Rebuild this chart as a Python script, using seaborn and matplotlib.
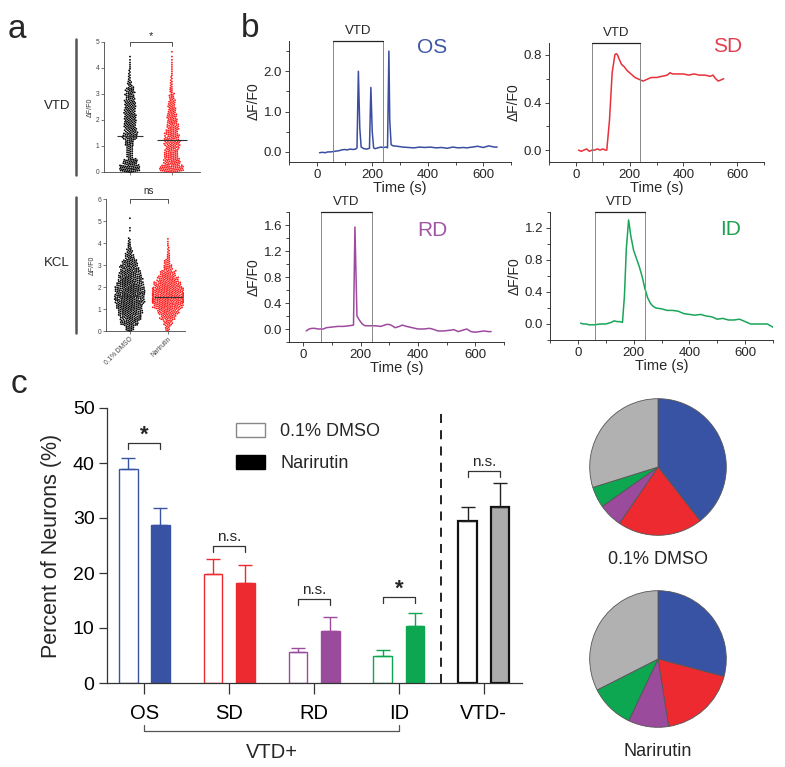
import warnings
import numpy as np
import pandas as pd
import matplotlib.pyplot as plt
import seaborn as sns
from matplotlib.patches import Patch
from matplotlib.ticker import MultipleLocator

warnings.filterwarnings('ignore')

# ---- panel a: binned counts of dF/F0 (bin width 0.25) ----
a_bin_lo = np.arange(0, 6.0, 0.25)
vtd_dmso_n = [42, 30, 12, 12, 18, 28, 24, 24, 24, 22, 22, 18, 18, 9, 5, 4, 3, 2]
vtd_nar_n = [48, 34, 28, 26, 30, 28, 24, 22, 20, 16, 14, 11, 7, 5, 4, 3, 3, 2, 1]
kcl_dmso_n = [15, 30, 35, 40, 45, 50, 50, 50, 45, 40, 35, 30, 25, 15, 10, 6, 4, 0, 2, 0, 1]
kcl_nar_n = [8, 15, 25, 35, 50, 60, 60, 55, 45, 35, 25, 15, 10, 6, 4, 3, 2]
vtd_median = [1.4, 1.25]
kcl_median = [1.6, 1.55]
a_groups = ['0.1% DMSO', 'Narirutin']

# ---- panel b: example traces ----
os_t = [10, 20, 30, 40, 50, 60, 70, 80, 90, 100, 110, 120, 130, 140, 145, 150, 155, 160, 170, 180,
        190, 195, 200, 205, 210, 220, 230, 240, 250, 255, 260, 263, 268, 275, 290, 310, 330, 350, 370, 390,
        410, 430, 450, 470, 490, 510, 530, 540, 560, 580, 600, 610, 620, 640, 650]
os_v = [-0.02, -0.01, -0.02, 0.0, 0.0, 0.01, 0.02, 0.03, 0.05, 0.06, 0.05, 0.07, 0.06, 0.07, 0.1, 2.0, 0.6, 0.12, 0.08, 0.07,
        0.09, 1.6, 0.5, 0.1, 0.08, 0.1, 0.12, 0.11, 0.12, 0.1, 2.5, 0.8, 0.18, 0.15, 0.14, 0.12, 0.11, 0.1, 0.12, 0.11,
        0.12, 0.1, 0.11, 0.09, 0.12, 0.1, 0.11, 0.1, 0.12, 0.14, 0.11, 0.13, 0.15, 0.12, 0.12]
sd_t = [10, 20, 30, 40, 50, 60, 70, 80, 90, 100, 110, 115, 125, 135, 145, 150, 155, 160, 170, 180,
        190, 200, 210, 220, 230, 240, 250, 260, 270, 280, 300, 320, 340, 350, 360, 380, 400, 420, 440, 460,
        480, 500, 510, 520, 530, 540, 550]
sd_v = [0.0, -0.01, 0.0, 0.01, -0.01, 0.0, 0.0, 0.01, 0.0, 0.01, 0.0, 0.0, 0.25, 0.65, 0.8, 0.81, 0.8, 0.77, 0.72, 0.7,
        0.67, 0.65, 0.63, 0.61, 0.6, 0.59, 0.58, 0.59, 0.6, 0.61, 0.61, 0.62, 0.63, 0.65, 0.64, 0.64, 0.64, 0.63, 0.64, 0.63,
        0.63, 0.62, 0.63, 0.6, 0.58, 0.59, 0.6]
rd_t = [10, 20, 30, 40, 50, 60, 70, 80, 100, 120, 140, 160, 175, 180, 187, 195, 205, 215, 230, 250,
        270, 290, 300, 310, 320, 335, 345, 360, 380, 400, 420, 440, 450, 470, 490, 510, 525, 540, 555, 570,
        585, 600, 615, 630, 645, 655]
rd_v = [-0.03, 0.0, 0.01, 0.01, 0.0, 0.0, 0.0, 0.02, 0.03, 0.04, 0.04, 0.05, 0.06, 1.57, 0.2, 0.14, 0.08, 0.05, 0.05, 0.05,
        0.04, 0.07, 0.07, 0.05, 0.02, 0.04, 0.06, 0.04, 0.02, 0.0, 0.0, 0.01, 0.0, -0.03, -0.03, -0.02, -0.01, -0.04, -0.02, 0.0,
        -0.04, -0.05, -0.04, -0.03, -0.04, -0.04]
id_t = [10, 20, 30, 40, 60, 80, 100, 110, 120, 130, 140, 150, 160, 167, 174, 182, 190, 200, 210, 220,
        230, 240, 250, 260, 270, 280, 300, 320, 340, 360, 380, 400, 420, 440, 460, 480, 500, 520, 540, 560,
        580, 600, 620, 640, 660, 680, 700]
id_v = [0.01, 0.0, 0.0, -0.01, -0.01, 0.0, 0.0, 0.01, 0.02, 0.04, 0.03, 0.03, 0.02, 0.35, 0.95, 1.3, 1.1, 0.92, 0.82, 0.72,
        0.6, 0.45, 0.33, 0.26, 0.22, 0.2, 0.19, 0.17, 0.17, 0.16, 0.13, 0.12, 0.11, 0.12, 0.1, 0.09, 0.06, 0.07, 0.05, 0.05,
        0.06, 0.03, 0.0, 0.0, 0.0, 0.0, -0.04]
vtd_on, vtd_off = 60, 240

# ---- panel c: percent of neurons ----
cats = ['OS', 'SD', 'RD', 'ID', 'VTD-']
dmso_mean = [39.0, 19.9, 5.6, 4.9, 29.5]
dmso_sem = [2.0, 2.6, 0.7, 1.1, 2.5]
nar_mean = [28.7, 18.1, 9.4, 10.3, 32.0]
nar_sem = [3.1, 3.4, 2.6, 2.4, 4.4]
sig_y = [43.6, 24.9, 15.3, 15.6, 38.5]
sig_lab = ['*', 'n.s.', 'n.s.', '*', 'n.s.']
cat_colors = ['#3953A4', '#EC2A2F', '#9A4B9C', '#0CA750', '#ABABAB']

sns.set_style('ticks')
plt.rcParams['font.family'] = ['Liberation Sans', 'DejaVu Sans']

W, H = 785, 767
fig = plt.figure(figsize=(W / 100, H / 100), dpi=100)


def box(l, t, w, h):
    return [l / W, 1 - (t + h) / H, w / W, h / H]


# ================= panel a =================
def swarm(ax, counts, meds, ymax):
    vals, grp = [], []
    for lab, cnt in zip(a_groups, counts):
        for lo, n in zip(a_bin_lo, cnt):
            if n:
                vals.extend(lo + 0.25 * (np.arange(n) + 0.5) / n)
                grp += [lab] * n
    d = pd.DataFrame({'group': grp, 'val': vals})
    sns.swarmplot(data=d, x='group', y='val', hue='group', order=a_groups,
                  palette={a_groups[0]: 'black', a_groups[1]: '#FF1A1A'},
                  size=1.3, linewidth=0, legend=False, ax=ax, clip_on=False)
    for i, m in enumerate(meds):
        hw = 0.3 if i == 0 else 0.36
        ax.hlines(m, i - hw, i + hw, color='#333333', lw=0.8, zorder=5)
    ax.set_ylim(0, ymax)
    ax.set_yticks(range(0, ymax + 1))
    ax.set_xlabel('')
    ax.set_ylabel('ΔF/F0', fontsize=5, labelpad=1, color='#333333')
    ax.tick_params(labelsize=4.8, length=2, width=0.5, colors='#444444', pad=1.5)
    sns.despine(ax=ax)
    for s in ['left', 'bottom']:
        ax.spines[s].set_linewidth(0.6)
        ax.spines[s].set_color('#444444')


ax_a1 = fig.add_axes(box(104, 42, 96, 130))
swarm(ax_a1, [vtd_dmso_n, vtd_nar_n], vtd_median, 5)
ax_a1.set_xlim(-0.62, 1.67)
ax_a1.set_xticklabels([])
ax_a1.plot([0, 0, 1, 1], [4.85, 5.0, 5.0, 4.85], color='#333333', lw=0.6, clip_on=False)
ax_a1.text(0.5, 5.05, '*', ha='center', va='bottom', fontsize=8)

ax_a2 = fig.add_axes(box(106, 199, 79, 132))
swarm(ax_a2, [kcl_dmso_n, kcl_nar_n], kcl_median, 6)
ax_a2.set_xlim(-0.63, 1.45)
ax_a2.set_xticklabels(a_groups, rotation=45, ha='right', rotation_mode='anchor', fontsize=4.8)
ax_a2.plot([0, 0, 1, 1], [5.8, 6.0, 6.0, 5.8], color='#333333', lw=0.6, clip_on=False)
ax_a2.text(0.5, 6.15, 'ns', ha='center', va='bottom', fontsize=7)

fig.add_artist(plt.Line2D([76 / W, 76 / W], [1 - 39 / H, 1 - 175 / H], color='#555555', lw=1.8))
fig.add_artist(plt.Line2D([76 / W, 76 / W], [1 - 197 / H, 1 - 333 / H], color='#555555', lw=1.8))
fig.text(57 / W, 1 - 106 / H, 'VTD', ha='center', va='center', fontsize=9.5)
fig.text(57 / W, 1 - 263 / H, 'KCL', ha='center', va='center', fontsize=9.5)

# ================= panel b =================
b_specs = [
    ('OS', os_t, os_v, '#3A4DA0', '#3F55A5', box(289, 41, 222, 121), (-100, 700), (-0.25, 2.75), [0, 1, 2], 0.5, (0.644, 0.95)),
    ('SD', sd_t, sd_v, '#E8303A', '#E04050', box(549, 43, 215, 119), (-100, 700), (-0.1, 0.9), [0, 0.4, 0.8], 0.2, (0.83, 0.97)),
    ('RD', rd_t, rd_v, '#9E4A9E', '#A055A5', box(289, 212, 215, 130), (-50, 700), (-0.2, 1.8), [0, 0.4, 0.8, 1.2, 1.6], 0.2, (0.665, 0.86)),
    ('ID', id_t, id_v, '#1AA55A', '#20A050', box(550, 212, 223, 128), (-100, 700), (-0.2, 1.4), [0, 0.4, 0.8, 1.2], 0.2, (0.81, 0.86)),
]
for name, t, v, lc, tc, rect, xl, yl, yt, ymin_step, npos in b_specs:
    ax = fig.add_axes(rect)
    sns.lineplot(x=t, y=v, ax=ax, color=lc, lw=1.1)
    ax.set_xlim(*xl)
    ax.set_ylim(*yl)
    ax.set_xticks([0, 200, 400, 600])
    ax.xaxis.set_minor_locator(MultipleLocator(100))
    ax.set_yticks(yt)
    ax.yaxis.set_minor_locator(MultipleLocator(ymin_step))
    ax.set_yticklabels(['%.1f' % y for y in yt])
    ax.tick_params(which='major', labelsize=9.5, length=3, width=0.6, pad=2)
    ax.tick_params(which='minor', length=2, width=0.6)
    ax.set_xlabel('Time (s)', fontsize=10.5, labelpad=0)
    ax.set_ylabel('ΔF/F0', fontsize=10, labelpad=2)
    sns.despine(ax=ax)
    for s in ['left', 'bottom']:
        ax.spines[s].set_linewidth(0.7)
        ax.spines[s].set_color('#333333')
    ax.plot([vtd_on, vtd_on], [yl[0], yl[1]], color='#888888', lw=0.7, clip_on=False)
    ax.plot([vtd_off, vtd_off], [yl[0], yl[1]], color='#888888', lw=0.7, clip_on=False)
    ax.plot([vtd_on, vtd_off], [yl[1], yl[1]], color='#222222', lw=0.9, clip_on=False)
    ax.text((vtd_on + vtd_off) / 2, yl[1] + (yl[1] - yl[0]) * 0.03, 'VTD', ha='center', va='bottom', fontsize=9.5)
    ax.text(npos[0], npos[1], name, transform=ax.transAxes, ha='center', va='center', fontsize=15, color=tc)

# ================= panel c =================
axc = fig.add_axes(box(107, 408, 415, 275))
df_c = pd.DataFrame({'cat': cats * 2,
                     'group': ['0.1% DMSO'] * 5 + ['Narirutin'] * 5,
                     'pct': dmso_mean + nar_mean})
sns.barplot(data=df_c, x='cat', y='pct', hue='group', order=cats, hue_order=['0.1% DMSO', 'Narirutin'],
            width=0.76, gap=0.42, errorbar=None, legend=False, ax=axc)
for p in list(axc.patches):
    xc = p.get_x() + p.get_width() / 2
    i = int(round(xc))
    nar = xc > i
    col = cat_colors[i]
    if i == 4:
        p.set_facecolor(col if nar else 'white')
        p.set_edgecolor('#111111')
        p.set_linewidth(1.6)
        ecol = '#222222'
    else:
        p.set_facecolor(col if nar else 'white')
        p.set_edgecolor(col)
        p.set_linewidth(1.0)
        ecol = col
    sem = nar_sem[i] if nar else dmso_sem[i]
    axc.errorbar(xc, p.get_height(), yerr=[[0], [sem]], color=ecol, capsize=5, lw=1.0,
                 capthick=1.0, zorder=1)
for i, (y, lab) in enumerate(zip(sig_y, sig_lab)):
    axc.plot([i - 0.19, i - 0.19, i + 0.19, i + 0.19], [y - 1.1, y, y, y - 1.1], color='#333333', lw=0.9,
             clip_on=False)
    if lab == '*':
        axc.text(i, y + 1.5, lab, ha='center', va='center', fontsize=16, fontweight='bold')
    else:
        axc.text(i, y + 0.4, lab, ha='center', va='bottom', fontsize=11)
axc.axvline(3.5, ymin=0, ymax=0.985, ls=(0, (5, 4)), color='#111111', lw=1.3)
axc.set_xlim(-0.44, 4.45)
axc.set_ylim(0, 50)
axc.set_yticks([0, 10, 20, 30, 40, 50])
axc.set_xlabel('')
axc.set_ylabel('Percent of Neurons (%)', fontsize=15.5, labelpad=8)
axc.tick_params(axis='y', labelsize=14, length=6, width=0.9, pad=3, colors='#333333', labelcolor='black')
axc.tick_params(axis='x', labelsize=14.5, length=8, width=0.9, pad=7, colors='#333333', labelcolor='black')
sns.despine(ax=axc)
for s in ['left', 'bottom']:
    axc.spines[s].set_linewidth(0.9)
    axc.spines[s].set_color('#333333')
tr = axc.get_xaxis_transform()
axc.plot([0, 0, 3, 3], [-0.153, -0.1745, -0.1745, -0.153], transform=tr, color='#555555', lw=0.9, clip_on=False)
axc.text(1.5, -0.251, 'VTD+', transform=tr, ha='center', va='center', fontsize=14.5)

fig.legend(handles=[Patch(facecolor='white', edgecolor='#888888', lw=1.0),
                    Patch(facecolor='black', edgecolor='black')],
           labels=['0.1% DMSO', 'Narirutin'], loc='upper left', bbox_to_anchor=(236 / W, 1 - 423 / H),
           frameon=False, fontsize=13, handlelength=1.6, handleheight=0.85, handletextpad=0.85,
           labelspacing=0.8, borderpad=0, borderaxespad=0)

# ================= pies =================
for rect, vals, lab, ly in [(box(589, 398, 138, 138), dmso_mean, '0.1% DMSO', 559),
                            (box(589, 590, 138, 138), nar_mean, 'Narirutin', 751)]:
    axp = fig.add_axes(rect)
    axp.pie(vals, colors=[cat_colors[0], cat_colors[1], cat_colors[2], cat_colors[3], '#B1B1B1'],
            startangle=90, counterclock=False, wedgeprops=dict(edgecolor='#555555', linewidth=0.6))
    axp.set_xlim(-1.01, 1.01)
    axp.set_ylim(-1.01, 1.01)
    axp.set_aspect('equal')
    fig.text(658 / W, 1 - ly / H, lab, ha='center', va='center', fontsize=13)

# panel letters
fig.text(8 / W, 1 - 38 / H, 'a', fontsize=24, va='baseline')
fig.text(241 / W, 1 - 37 / H, 'b', fontsize=24, va='baseline')
fig.text(11 / W, 1 - 393 / H, 'c', fontsize=24, va='baseline')

fig.savefig('out.png', dpi=100)
